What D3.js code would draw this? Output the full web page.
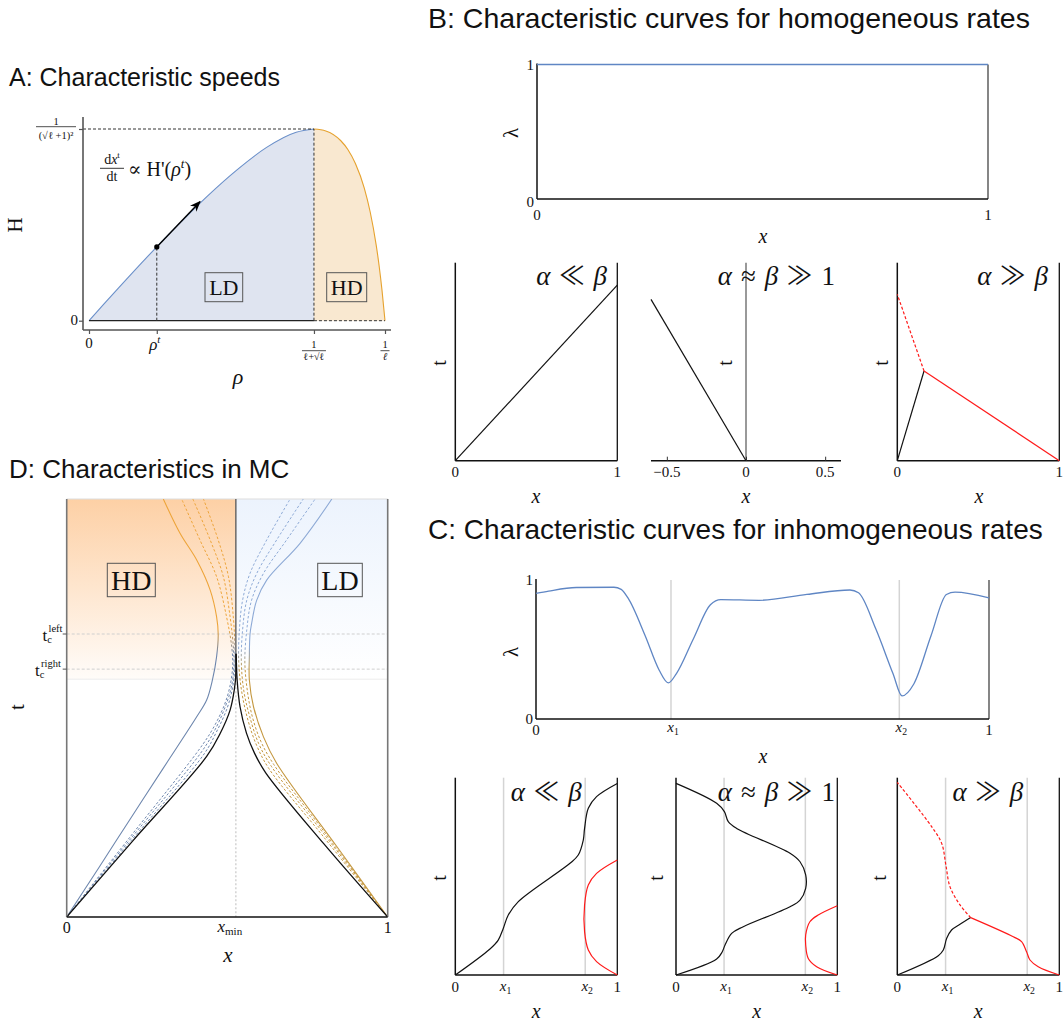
<!DOCTYPE html>
<html><head><meta charset="utf-8">
<script src="https://cdn.jsdelivr.net/npm/d3@7"></script>
<style>body{margin:0;background:#fff}</style>
</head><body>
<script>
// ---------------- DATA ----------------
// Panel A: current H(rho); rho in units of 1/l, H in units of Hmax
const aRho = [0,0.05,0.1,0.2,0.229,0.3,0.4,0.5,0.6,0.7,0.76,0.8,0.85,0.875,0.9,0.93,0.95,0.97,0.98,0.99,1];
const aH   = [0,0.086,0.171,0.338,0.385,0.498,0.650,0.787,0.904,0.983,1.0,0.990,0.940,0.892,0.820,0.692,0.567,0.397,0.288,0.157,0];
const aRhoT = 0.229, aRhoMax = 0.76;
const aArrowTip = [0.375, 0.621];

// Panel B: homogeneous rates
const bTopX = [0, 1];
const bTopLambda = [1, 1];
const b1Black = [[0,0],[1,0.887]];
const b2Black = [[0,0],[-0.6,0.815]];
const b2Ticks = [-0.5, 0, 0.5];
const b3Black = [[0,0],[0.165,0.453]];
const b3RedSolid = [[0.165,0.453],[1,0]];
const b3RedDashed = [[0.165,0.453],[0,0.84]];
const bTitles = ["α ≪ β", "α ≈ β ≫ 1", "α ≫ β"];

// Panel C: inhomogeneous rates
const cX = [0,0.028,0.089,0.172,0.188,0.203,0.241,0.272,0.292,0.31,0.347,0.385,0.408,0.492,0.598,0.693,0.712,0.75,0.788,0.808,0.834,0.872,0.906,0.925,1];
const cLambda = [0.903,0.92,0.946,0.948,0.933,0.871,0.599,0.351,0.26,0.327,0.574,0.822,0.859,0.854,0.896,0.928,0.908,0.649,0.327,0.166,0.252,0.599,0.896,0.913,0.871];
const cMarks = [0.298, 0.802];
const c1Black = [[0,0],[0.214,0.132],[0.265,0.177],[0.296,0.236],[0.327,0.304],[0.389,0.372],[0.708,0.566],[0.759,0.608],[0.79,0.684],[0.798,0.743],[0.821,0.845],[0.872,0.904],[1,0.971]];
const c1Red = [[1,0],[0.872,0.068],[0.821,0.127],[0.798,0.22],[0.798,0.355],[0.821,0.456],[0.872,0.515],[1,0.583]];
const c2Black = [[0,0],[0.252,0.081],[0.287,0.118],[0.304,0.152],[0.345,0.211],[0.417,0.245],[0.707,0.346],[0.769,0.38],[0.804,0.439],[0.804,0.507],[0.769,0.574],[0.707,0.617],[0.376,0.743],[0.324,0.777],[0.3,0.828],[0.252,0.87],[0,0.971]];
const c2Red = [[1,0],[0.872,0.042],[0.82,0.084],[0.804,0.152],[0.804,0.203],[0.83,0.27],[0.882,0.304],[1,0.351]];
const c3Black = [[0,0],[0.253,0.098],[0.284,0.127],[0.305,0.186],[0.335,0.228],[0.387,0.257],[0.453,0.291]];
const c3RedSolid = [[0.453,0.291],[0.716,0.194],[0.767,0.169],[0.798,0.118],[0.819,0.076],[0.87,0.042],[1,0]];
const c3RedDashed = [[0.453,0.291],[0.387,0.355],[0.325,0.448],[0.3,0.557],[0.274,0.667],[0.212,0.752],[0,0.976]];

// Panel D: characteristics in MC
const dXmin = 0.527, dTcLeft = 0.677, dTcRight = 0.593, dShadeBottom = 0.569;
const dLeftSolid = [[0,0],[0.1,0.118],[0.2,0.237],[0.3,0.355],[0.405,0.479],[0.436,0.519],[0.454,0.567],[0.467,0.623],[0.472,0.676],[0.467,0.718],[0.447,0.782],[0.405,0.854],[0.353,0.918],[0.301,1.0]];
const dLeftDashed1 = [[0,0],[0.2,0.194],[0.41,0.398],[0.455,0.45],[0.49,0.505],[0.508,0.55],[0.517,0.6],[0.514,0.647],[0.498,0.718],[0.467,0.814],[0.415,0.902],[0.358,1.0]];
const dLeftDashed2 = [[0,0],[0.2,0.188],[0.42,0.395],[0.462,0.448],[0.495,0.505],[0.513,0.55],[0.521,0.6],[0.519,0.647],[0.509,0.718],[0.488,0.814],[0.447,0.902],[0.393,1.0]];
const dLeftDashed3 = [[0,0],[0.2,0.182],[0.428,0.39],[0.468,0.445],[0.5,0.5],[0.517,0.55],[0.524,0.6],[0.524,0.647],[0.519,0.718],[0.504,0.814],[0.472,0.902],[0.426,1.0]];
const dLeftBlack = [[0,0],[0.208,0.184],[0.436,0.384],[0.478,0.439],[0.509,0.495],[0.522,0.543],[0.527,0.58],[0.527,0.63]];
const dRightSolid = [[1,0],[0.842,0.168],[0.654,0.368],[0.613,0.431],[0.582,0.503],[0.569,0.567],[0.569,0.623],[0.571,0.676],[0.576,0.702],[0.592,0.758],[0.623,0.806],[0.727,0.894],[0.826,1.0]];
const dRightDashed1 = [[1,0],[0.8,0.206],[0.645,0.365],[0.605,0.42],[0.578,0.48],[0.563,0.54],[0.555,0.61],[0.561,0.687],[0.576,0.758],[0.613,0.822],[0.685,0.902],[0.774,1.0]];
const dRightDashed2 = [[1,0],[0.8,0.2],[0.638,0.36],[0.598,0.415],[0.57,0.48],[0.552,0.54],[0.544,0.61],[0.548,0.687],[0.561,0.758],[0.592,0.822],[0.654,0.902],[0.737,1.0]];
const dRightDashed3 = [[1,0],[0.8,0.192],[0.63,0.355],[0.592,0.41],[0.565,0.47],[0.545,0.54],[0.536,0.61],[0.538,0.687],[0.548,0.758],[0.571,0.822],[0.623,0.902],[0.696,1.0]];
const dRightBlack = [[1,0],[0.8,0.176],[0.62,0.345],[0.585,0.392],[0.56,0.44],[0.54,0.503],[0.531,0.567],[0.528,0.63]];

const titles = ["A: Characteristic speeds","B: Characteristic curves for homogeneous rates","C: Characteristic curves for inhomogeneous rates","D: Characteristics in MC"];

// ---------------- DRAW ----------------
const SERIF = "'Liberation Serif','DejaVu Serif',serif";
const SANS = "'Liberation Sans',Arial,sans-serif";
const svg = d3.select('body').append('svg').attr('width',1063).attr('height',1023).style('background','#fff');
const defs = svg.append('defs');

function txt(g,x,y,s,size,opt={}){
  const t=g.append('text').attr('x',x).attr('y',y).text(s)
    .attr('font-family',opt.family||SERIF).attr('font-size',size)
    .attr('text-anchor',opt.anchor||'middle').attr('fill',opt.fill||'#111');
  if(opt.italic) t.attr('font-style','italic');
  if(opt.rotate) t.attr('transform',`rotate(-90,${x},${y})`);
  return t;
}
function ln(g,x1,y1,x2,y2,col,w,dash){
  const l=g.append('line').attr('x1',x1).attr('y1',y1).attr('x2',x2).attr('y2',y2).attr('stroke',col).attr('stroke-width',w);
  if(dash) l.attr('stroke-dasharray',dash);
  return l;
}
function mathTitle(g,xEnd,y,s,size){
  const t=g.append('text').attr('x',xEnd).attr('y',y).attr('text-anchor','end')
    .attr('font-family',SERIF).attr('font-size',size).attr('fill','#111');
  s.split(' ').forEach((tok,i)=>{
    const sp=t.append('tspan').text((i>0?'\u2004':'')+tok);
    if(/[αβ]/.test(tok)) sp.attr('font-style','italic');
    else if(/[≪≫]/.test(tok)) sp.attr('font-family',"'Noto Sans CJK JP','DejaVu Sans',sans-serif").attr('font-size',size*0.95);
  });
  return t;
}

// titles
const tpos=[[9,85.7,25],[428,28,28.5],[428,539,28],[9,478,26]];
titles.forEach((t,i)=>txt(svg,tpos[i][0],tpos[i][1],t,tpos[i][2],{family:SANS,anchor:'start',fill:'#111'}));

// ===== Panel A =====
const gA=svg.append('g');
const xA=d3.scaleLinear().domain([0,1]).range([89,385]);
const yA=d3.scaleLinear().domain([0,1]).range([320.7,129]);
const aPts=aRho.map((r,i)=>[r,aH[i]]);
const ldPts=aPts.filter(p=>p[0]<=aRhoMax), hdPts=aPts.filter(p=>p[0]>=aRhoMax);
const areaA=d3.area().x(d=>xA(d[0])).y0(yA(0)).y1(d=>yA(d[1])).curve(d3.curveMonotoneX);
const lineA=d3.line().x(d=>xA(d[0])).y(d=>yA(d[1])).curve(d3.curveMonotoneX);
gA.append('path').attr('d',areaA(ldPts)).attr('fill','#dfe4f0');
gA.append('path').attr('d',areaA(hdPts)).attr('fill','#f9e8d0');
gA.append('path').attr('d',lineA(ldPts)).attr('fill','none').attr('stroke','#6a8fc9').attr('stroke-width',1.1);
gA.append('path').attr('d',lineA(hdPts)).attr('fill','none').attr('stroke','#e6a22e').attr('stroke-width',1.1);
ln(gA,xA(0),yA(0),xA(aRhoMax),yA(0),'#222',1.3);
ln(gA,xA(aRhoMax),yA(0),xA(1),yA(0),'#333',1,'3,2');
ln(gA,xA(aRhoMax),yA(0),xA(aRhoMax),yA(1),'#333',1,'3,2');
ln(gA,83,yA(1),xA(aRhoMax),yA(1),'#333',1,'3,2');
const hT=aH[aRho.indexOf(aRhoT)];
ln(gA,xA(aRhoT),yA(0),xA(aRhoT),yA(hT),'#333',1,'3,2');
const axAx=d3.axisBottom(xA).tickValues([0,aRhoT,aRhoMax,1]).tickSize(4).tickFormat('');
gA.append('g').attr('transform','translate(0,330)').call(axAx).call(g=>g.select('.domain').remove()).selectAll('line').attr('stroke','#555').attr('stroke-width',1.2);
const axAy=d3.axisLeft(yA).tickValues([0,1]).tickSize(4).tickFormat('');
gA.append('g').attr('transform','translate(83,0)').call(axAy).call(g=>g.select('.domain').remove()).selectAll('line').attr('stroke','#555').attr('stroke-width',1.2);
ln(gA,83,330,391,330,'#555',1.6);
ln(gA,83,117,83,330,'#555',1.6);
defs.append('marker').attr('id','arr').attr('viewBox','0 0 10 10').attr('refX',9).attr('refY',5)
  .attr('markerWidth',11).attr('markerHeight',11).attr('markerUnits','userSpaceOnUse').attr('orient','auto')
  .append('path').attr('d','M0,1 L10,5 L0,9 L3,5 Z').attr('fill','#000');
ln(gA,xA(aRhoT),yA(hT),xA(aArrowTip[0]),yA(aArrowTip[1]),'#000',1.4).attr('marker-end','url(#arr)');
gA.append('circle').attr('cx',xA(aRhoT)).attr('cy',yA(hT)).attr('r',2.6).attr('fill','#000');
txt(gA,xA(0),348,'0',15);
{const t=txt(gA,xA(aRhoT)-2,350,'ρ',17,{italic:true}); t.append('tspan').text('t').attr('font-size',11).attr('dy',-7);}
txt(gA,xA(aRhoMax),348,'1',10.5);
ln(gA,xA(aRhoMax)-12,350.7,xA(aRhoMax)+12,350.7,'#222',0.8);
txt(gA,xA(aRhoMax),360,'ℓ+√ℓ',10);
txt(gA,xA(1),348,'1',10.5);
ln(gA,xA(1)-4.5,350.7,xA(1)+4.5,350.7,'#222',0.8);
txt(gA,xA(1),360,'ℓ',10.5,{italic:true});
txt(gA,78,325,'0',15,{anchor:'end'});
txt(gA,56,124.5,'1',10.5);
ln(gA,36,126.7,76,126.7,'#222',0.8);
txt(gA,56,138.5,'(√ℓ +1)²',10.5);
txt(gA,22,225,'H',21,{rotate:true});
txt(gA,238,384,'ρ',22,{italic:true});
{const t=txt(gA,112,164,'d',14); t.append('tspan').text('x').attr('font-style','italic'); t.append('tspan').text('t').attr('font-size',9).attr('dy',-6);}
ln(gA,100,168.3,124,168.3,'#222',0.9);
txt(gA,112,181,'dt',14);
{const t=txt(gA,128,176,"∝ H'(",20,{anchor:'start'}); t.append('tspan').text('ρ').attr('font-style','italic'); t.append('tspan').text('t').attr('font-style','italic').attr('font-size',13).attr('dy',-8); t.append('tspan').text(')').attr('dy',8);}
[['LD',205,242.7],['HD',326.7,366.7]].forEach(b=>{
  gA.append('rect').attr('x',b[1]).attr('y',272.7).attr('width',b[2]-b[1]).attr('height',29).attr('fill','none').attr('stroke','#555').attr('stroke-width',1);
  txt(gA,(b[1]+b[2])/2,295,b[0],22);
});

// ===== Panel B top =====
const gB=svg.append('g');
const xB=d3.scaleLinear().domain([0,1]).range([537,988]);
const yB=d3.scaleLinear().domain([0,1]).range([199,64.5]);
ln(gB,988,yB(1),988,yB(0),'#222',1.1);
ln(gB,xB(0),yB(0),xB(1),yB(0),'#111',1.5);
ln(gB,xB(0),yB(1)-1,xB(0),yB(0),'#111',1.5);
gB.append('path').attr('d',d3.line().x((d,i)=>xB(bTopX[i])).y(d=>yB(d))(bTopLambda)).attr('stroke','#5f86c4').attr('stroke-width',1.3).attr('fill','none');
txt(gB,534,70,'1',15,{anchor:'end'});
txt(gB,534,207,'0',15,{anchor:'end'});
txt(gB,xB(0),220,'0',15);
txt(gB,xB(1),220,'1',15);
txt(gB,518,133,'λ',21,{rotate:true});
txt(gB,763,243,'x',20,{italic:true});

// ===== Panel B bottom row =====
const yBb=d3.scaleLinear().domain([0,1]).range([460.7,262.7]);
function unitPanel(g,x0,x1,yS){
  const xs=d3.scaleLinear().domain([0,1]).range([x0,x1]);
  ln(g,x0,yS(1),x0,yS(0),'#111',1.5);
  ln(g,x0,yS(0),x1,yS(0),'#111',1.5);
  ln(g,x1,yS(1),x1,yS(0),'#111',1.3);
  return xs;
}
function curve(g,pts,xs,ys,col,dash,w,ctype){
  const p=g.append('path').attr('d',d3.line().x(d=>xs(d[0])).y(d=>ys(d[1])).curve(ctype||d3.curveLinear)(pts))
    .attr('fill','none').attr('stroke',col).attr('stroke-width',w||1.2);
  if(dash) p.attr('stroke-dasharray',dash);
  return p;
}
const gBb=svg.append('g');
const xB1=unitPanel(gBb,455.3,617.3,yBb);
curve(gBb,b1Black,xB1,yBb,'#111');
txt(gBb,xB1(0),477,'0',15); txt(gBb,xB1(1),477,'1',15);
txt(gBb,446,363,'t',20,{rotate:true});
txt(gBb,536,503,'x',20,{italic:true});
mathTitle(gBb,607,285,bTitles[0],27);

const xB2=d3.scaleLinear().domain([-0.6,0.6]).range([651,841]);
ln(gBb,xB2(0),yBb(1),xB2(0),yBb(0),'#555',1.2);
ln(gBb,xB2(-0.6),yBb(0),xB2(0.6),yBb(0),'#111',1.4);
gBb.append('g').attr('transform',`translate(0,${yBb(0)})`).call(d3.axisTop(xB2).tickValues(b2Ticks).tickSize(4).tickFormat('')).call(g=>g.select('.domain').remove()).selectAll('line').attr('stroke','#333');
b2Ticks.forEach(v=>txt(gBb,xB2(v),477,v===0?'0':(v<0?'−0.5':'0.5'),15));
curve(gBb,b2Black,xB2,yBb,'#111');
txt(gBb,732,363,'t',20,{rotate:true});
txt(gBb,746,503,'x',20,{italic:true});
mathTitle(gBb,835,285,bTitles[1],27);

const xB3=unitPanel(gBb,897.3,1059.3,yBb);
curve(gBb,b3Black,xB3,yBb,'#111');
curve(gBb,b3RedSolid,xB3,yBb,'#ff1a1a');
curve(gBb,b3RedDashed,xB3,yBb,'#ff1a1a','3,2');
txt(gBb,xB3(0),477,'0',15); txt(gBb,xB3(1),477,'1',15);
txt(gBb,888,363,'t',20,{rotate:true});
txt(gBb,979,503,'x',20,{italic:true});
mathTitle(gBb,1048,285,bTitles[2],27);

// ===== Panel C top =====
const gC=svg.append('g');
const xC=d3.scaleLinear().domain([0,1]).range([536,989]);
const yC=d3.scaleLinear().domain([0,1]).range([719,580]);
cMarks.forEach(m=>ln(gC,xC(m),yC(1),xC(m),yC(0),'#d4d4d4',1.5));
ln(gC,989,yC(1),989,yC(0),'#222',1.1);
ln(gC,xC(0),yC(0),xC(1),yC(0),'#111',1.5);
ln(gC,xC(0),yC(1)-1,xC(0),yC(0),'#111',1.5);
gC.append('path').attr('d',d3.line().x((d,i)=>xC(cX[i])).y(d=>yC(d)).curve(d3.curveMonotoneX)(cLambda)).attr('fill','none').attr('stroke','#5f86c4').attr('stroke-width',1.3);
txt(gC,533,585,'1',15,{anchor:'end'});
txt(gC,533,724,'0',15,{anchor:'end'});
txt(gC,xC(0),735,'0',15); txt(gC,xC(1),735,'1',15);
function subX(g,x,y,sub,size){const t=txt(g,x,y,'x',size,{italic:true}); t.append('tspan').text(sub).attr('font-size',size*0.65).attr('dy',3).attr('font-style','normal'); return t;}
subX(gC,xC(cMarks[0])+2,732,'1',15);
subX(gC,xC(cMarks[1])+2,732,'2',15);
txt(gC,518,652,'λ',21,{rotate:true});
txt(gC,763,763,'x',20,{italic:true});

// ===== Panel C bottom row =====
const gCb=svg.append('g');
const yCb=d3.scaleLinear().domain([0,1]).range([975,777.7]);
const cr=d3.curveCatmullRom.alpha(0.5);
const cPanels=[[455.3,617.3,[[c1Black,'#111',null],[c1Red,'#ff1a1a',null]],445.7,581.7],
               [676,837.3,[[c2Black,'#111',null],[c2Red,'#ff1a1a',null]],663,835],
               [897.3,1059.3,[[c3Black,'#111',null],[c3RedSolid,'#ff1a1a',null],[c3RedDashed,'#ff1a1a','3,2']],885.7,1023.3]];
cPanels.forEach((p,i)=>{
  const xs=d3.scaleLinear().domain([0,1]).range([p[0],p[1]]);
  cMarks.forEach(m=>ln(gCb,xs(m),yCb(1),xs(m),yCb(0),'#d4d4d4',1.5));
  unitPanel(gCb,p[0],p[1],yCb);
  p[2].forEach(c=>curve(gCb,c[0],xs,yCb,c[1],c[2],1.2,cr));
  txt(gCb,xs(0),992,'0',15); txt(gCb,xs(1),992,'1',15);
  subX(gCb,xs(cMarks[0])+2,991,'1',15);
  subX(gCb,xs(cMarks[1])+2,991,'2',15);
  txt(gCb,p[3],878,'t',20,{rotate:true});
  txt(gCb,(p[0]+p[1])/2,1018,'x',20,{italic:true});
  mathTitle(gCb,p[4],801,bTitles[i],27);
});

// ===== Panel D =====
const gD=svg.append('g');
const xD=d3.scaleLinear().domain([0,1]).range([66.7,387.7]);
const yD=d3.scaleLinear().domain([0,1]).range([917,499]);
const gl=defs.append('linearGradient').attr('id','shL').attr('x1',0).attr('y1',0).attr('x2',0).attr('y2',1);
gl.append('stop').attr('offset',0).attr('stop-color','#fdd0a5');
gl.append('stop').attr('offset',1).attr('stop-color','#fffcf9');
const gr=defs.append('linearGradient').attr('id','shR').attr('x1',0).attr('y1',0).attr('x2',0).attr('y2',1);
gr.append('stop').attr('offset',0).attr('stop-color','#ecf3fd');
gr.append('stop').attr('offset',1).attr('stop-color','#ffffff');
gD.append('rect').attr('x',xD(0)).attr('y',yD(1)).attr('width',xD(dXmin)-xD(0)).attr('height',yD(dShadeBottom)-yD(1)).attr('fill','url(#shL)');
gD.append('rect').attr('x',xD(dXmin)).attr('y',yD(1)).attr('width',xD(1)-xD(dXmin)).attr('height',yD(dShadeBottom)-yD(1)).attr('fill','url(#shR)');
ln(gD,xD(0),yD(dShadeBottom),xD(1),yD(dShadeBottom),'#ececec',1);
ln(gD,xD(0),yD(1),xD(1),yD(1),'#dddddd',1);
ln(gD,xD(0),yD(dTcLeft),xD(1),yD(dTcLeft),'#cfcfcf',1,'3,2');
ln(gD,xD(0),yD(dTcRight),xD(1),yD(dTcRight),'#cfcfcf',1,'3,2');
ln(gD,xD(dXmin),yD(dShadeBottom),xD(dXmin),yD(0),'#c8c8c8',1.2,'2,2');
ln(gD,xD(dXmin),yD(1),xD(dXmin),yD(dShadeBottom),'#555',1.3);
[['HD',107.3,155.3],['LD',317.7,362.3]].forEach(b=>{
  gD.append('rect').attr('x',b[1]).attr('y',563.3).attr('width',b[2]-b[1]).attr('height',33.4).attr('fill','none').attr('stroke','#555').attr('stroke-width',1);
  txt(gD,(b[1]+b[2])/2,590,b[0],28);
});
function vgrad(id,t0,t1,c0,c1){
  const g=defs.append('linearGradient').attr('id',id).attr('gradientUnits','userSpaceOnUse').attr('x1',0).attr('x2',0).attr('y1',yD(t0)).attr('y2',yD(t1));
  g.append('stop').attr('offset',0).attr('stop-color',c0);
  g.append('stop').attr('offset',1).attr('stop-color',c1);
}
vgrad('gLc',0.63,0.69,'#6d86ad','#eda43a');
vgrad('gRc',0.59,0.645,'#c4973f','#8eaad6');
defs.append('clipPath').attr('id','clipD').append('rect').attr('x',xD(0)).attr('y',yD(1)).attr('width',xD(1)-xD(0)).attr('height',yD(0)-yD(1));
const gDc=gD.append('g').attr('clip-path','url(#clipD)');
const cD=d3.curveCatmullRom.alpha(0.5);
[dLeftDashed1,dLeftDashed2,dLeftDashed3].forEach(c=>curve(gDc,c,xD,yD,'url(#gLc)','2.5,2',1,cD));
[dRightDashed1,dRightDashed2,dRightDashed3].forEach(c=>curve(gDc,c,xD,yD,'url(#gRc)','2.5,2',1,cD));
curve(gDc,dLeftSolid,xD,yD,'url(#gLc)',null,1.1,cD);
curve(gDc,dRightSolid,xD,yD,'url(#gRc)',null,1.1,cD);
curve(gDc,dLeftBlack,xD,yD,'#111',null,1.3,cD);
curve(gDc,dRightBlack,xD,yD,'#111',null,1.3,cD);
ln(gD,xD(0),yD(1),xD(0),yD(0),'#777',1.6);
ln(gD,xD(1),yD(1),xD(1),yD(0),'#777',1.6);
ln(gD,xD(0),yD(0),xD(1),yD(0),'#111',1.6);
ln(gD,xD(0)-4,yD(dTcLeft),xD(0),yD(dTcLeft),'#555',1);
ln(gD,xD(0)-4,yD(dTcRight),xD(0),yD(dTcRight),'#555',1);
{const t=txt(gD,42.5,641,'t',17,{anchor:'start'}); t.append('tspan').text('c').attr('font-size',10.5).attr('dy',2);
 t.append('tspan').text('left').attr('font-size',10.5).attr('x',48.5).attr('dy',-11);}
{const t=txt(gD,35,676,'t',17,{anchor:'start'}); t.append('tspan').text('c').attr('font-size',10.5).attr('dy',2);
 t.append('tspan').text('right').attr('font-size',10.5).attr('x',41).attr('dy',-11);}
txt(gD,xD(0),933,'0',16); txt(gD,xD(1),933,'1',16);
subX(gD,xD(dXmin)-6,932,'min',17);
txt(gD,228,962,'x',21,{italic:true});
txt(gD,24,707,'t',21,{rotate:true});
</script>
</body></html>
